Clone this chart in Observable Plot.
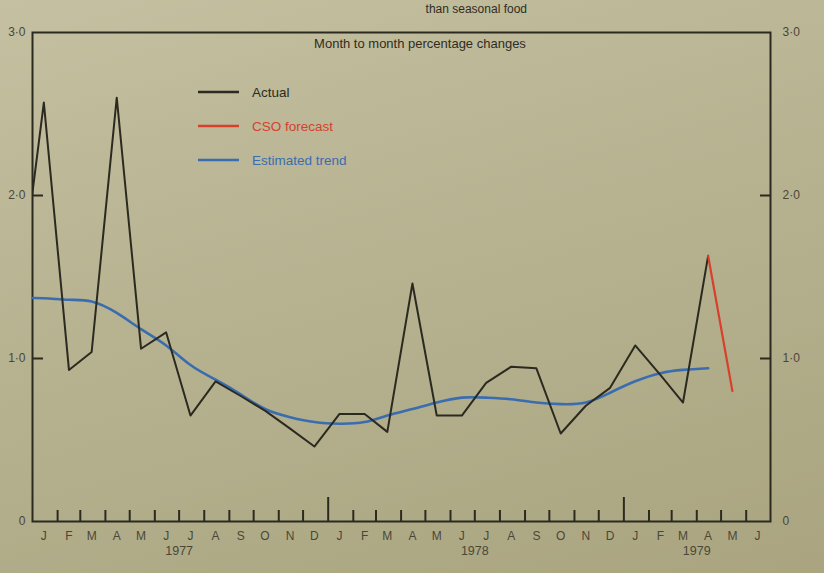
<!DOCTYPE html>
<html><head><meta charset="utf-8">
<script src="https://cdn.jsdelivr.net/npm/d3@7"></script>
<script src="https://cdn.jsdelivr.net/npm/@observablehq/plot@0.6"></script>
<style>
html,body{margin:0;padding:0;width:824px;height:573px;overflow:hidden;
background:linear-gradient(165deg,#c4c0a1 0%,#b7b290 45%,#aaa580 100%);}
</style></head><body><div id="chart"></div>
<script>
const monthLetters = ["J","F","M","A","M","J","J","A","S","O","N","D"];
const actualMonths = ["1976-12","1977-01","1977-02","1977-03","1977-04","1977-05","1977-06","1977-07","1977-08","1977-09","1977-10","1977-11","1977-12",
  "1978-01","1978-02","1978-03","1978-04","1978-05","1978-06","1978-07","1978-08","1978-09","1978-10","1978-11","1978-12",
  "1979-01","1979-02","1979-03","1979-04"];
const actualValues = [1.35,2.57,0.93,1.04,2.60,1.06,1.16,0.65,0.86,0.77,0.68,0.57,0.46,
  0.66,0.66,0.55,1.46,0.65,0.65,0.85,0.95,0.94,0.54,0.71,0.82,
  1.08,0.90,0.73,1.63];
const trendValues = [1.37,1.37,1.36,1.35,1.28,1.18,1.08,0.96,0.87,0.78,0.69,0.64,0.61,
  0.60,0.61,0.65,0.69,0.73,0.76,0.76,0.75,0.73,0.72,0.73,0.79,
  0.86,0.91,0.93,0.94];
const forecastMonths = ["1979-04","1979-05"];
const forecastValues = [1.63,0.80];
const yTicks = [0,1,2,3];
const yearLabels = [{date:"1977-07-01",text:"1977"},{date:"1978-07-01",text:"1978"},{date:"1979-04-01",text:"1979"}];
const legendItems = [{label:"Actual",color:"#2b2a20"},{label:"CSO forecast",color:"#d8402c"},{label:"Estimated trend",color:"#3a6db0"}];
const titleText = "Month to month percentage changes";
const topFragment = "than seasonal food";

const ink = "#2b2a20";
const mid = s => { const [y,m] = s.split("-").map(Number); return new Date(Date.UTC(y, m-1, 15)); };
const actual = actualMonths.map((m,i)=>({date:mid(m), value:actualValues[i]}));
const trend = actualMonths.map((m,i)=>({date:mid(m), value:trendValues[i]}));
const forecast = forecastMonths.map((m,i)=>({date:mid(m), value:forecastValues[i]}));
const x0 = new Date(Date.UTC(1977,0,1)), x1 = new Date(Date.UTC(1979,6,1));
const boundaries = d3.utcMonth.range(new Date(Date.UTC(1977,1,1)), x1);
const monthTicks = boundaries.filter(d => d.getUTCMonth() !== 0);
const yearTicks = boundaries.filter(d => d.getUTCMonth() === 0);
const mids = d3.utcMonth.range(x0, x1).map(d => new Date(Date.UTC(d.getUTCFullYear(), d.getUTCMonth(), 15)));
const fmt = d => d === 0 ? "0" : d.toFixed(1).replace(".", "\u00b7");

const plot = Plot.plot({
  width: 824, height: 573,
  marginLeft: 32, marginRight: 54, marginTop: 32, marginBottom: 52,
  style: {background: "transparent", fontFamily: "'Liberation Sans', Arial, sans-serif"},
  x: {type: "utc", domain: [x0, x1]},
  y: {domain: [0, 3]},
  marks: [
    Plot.frame({stroke: ink, strokeWidth: 2}),
    Plot.axisY({anchor: "left", ticks: [1,2], tickSize: -11, tickFormat: () => "", color: ink, strokeWidth: 2, label: null}),
    Plot.axisY({anchor: "right", ticks: [1,2], tickSize: -11, tickFormat: () => "", color: ink, strokeWidth: 2, label: null}),
    Plot.axisY({anchor: "left", ticks: yTicks, tickSize: 0, tickPadding: 7, tickFormat: fmt, fontSize: 12, color: "#4a4737", label: null}),
    Plot.axisY({anchor: "right", ticks: yTicks, tickSize: 0, tickPadding: 12, tickFormat: fmt, fontSize: 12, color: "#4a4737", label: null}),
    Plot.axisX({ticks: monthTicks, tickSize: -11, tickFormat: () => "", color: ink, strokeWidth: 2, label: null}),
    Plot.axisX({ticks: yearTicks, tickSize: -24, tickFormat: () => "", color: ink, strokeWidth: 2, label: null}),
    Plot.axisX({ticks: mids, tickSize: 0, tickPadding: 10, tickFormat: d => monthLetters[d.getUTCMonth()], fontSize: 12, color: "#4a4737", label: null}),
    Plot.text(yearLabels, {x: d => new Date(d.date), text: "text", frameAnchor: "bottom", dy: 33, fontSize: 12.5, fill: "#4a4737"}),
    Plot.line(trend, {x: "date", y: "value", stroke: "#3a6db0", strokeWidth: 2.6, curve: "natural", clip: true}),
    Plot.line(actual, {x: "date", y: "value", stroke: ink, strokeWidth: 2, clip: true}),
    Plot.line(forecast, {x: "date", y: "value", stroke: "#d8402c", strokeWidth: 2.2})
  ]
});
document.getElementById("chart").appendChild(plot);

const svg = d3.select(plot);
svg.append("text").attr("x", 420).attr("y", 48).attr("text-anchor", "middle")
  .attr("font-size", 13).attr("fill", "#2f2d22").text(titleText);
svg.append("text").attr("x", 527).attr("y", 13).attr("text-anchor", "end")
  .attr("font-size", 12).attr("fill", "#2f2d22").text(topFragment);
const lg = svg.append("g");
legendItems.forEach((d, i) => {
  const yy = 92 + i * 34;
  lg.append("line").attr("x1", 198).attr("x2", 239).attr("y1", yy).attr("y2", yy)
    .attr("stroke", d.color).attr("stroke-width", 2.4);
  lg.append("text").attr("x", 252).attr("y", yy + 4.5).attr("font-size", 13.5)
    .attr("text-anchor", "start").attr("fill", d.color).text(d.label);
});
</script></body></html>
